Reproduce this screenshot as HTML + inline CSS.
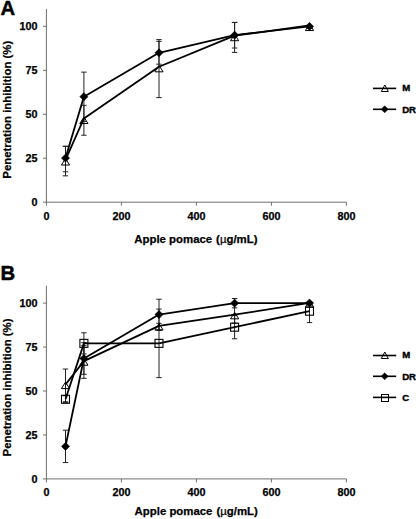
<!DOCTYPE html>
<html><head><meta charset="utf-8"><style>
html,body{margin:0;padding:0;background:#fff;}
body{width:416px;height:519px;overflow:hidden;}
svg{display:block;}
text{font-family:"Liberation Sans",sans-serif;font-weight:bold;fill:#000;stroke:#000;stroke-width:0.25px;}
.tk{font-size:10.8px;}
.ttl{font-size:11.4px;}
.lt{font-size:20.3px;stroke-width:0.45px;}
.lg{font-size:9.6px;stroke-width:0.4px;letter-spacing:-0.15px;}
</style></head><body>
<svg width="416" height="519" viewBox="0 0 416 519">
<rect width="416" height="519" fill="#fff"/>
<line x1="46.4" y1="8.9" x2="46.4" y2="205.7" stroke="#6e6e6e" stroke-width="1"/>
<line x1="43.1" y1="202.2" x2="346.4" y2="202.2" stroke="#6e6e6e" stroke-width="1"/>
<line x1="43.1" y1="158.25" x2="46.4" y2="158.25" stroke="#6e6e6e" stroke-width="1"/>
<line x1="43.1" y1="114.30" x2="46.4" y2="114.30" stroke="#6e6e6e" stroke-width="1"/>
<line x1="43.1" y1="70.35" x2="46.4" y2="70.35" stroke="#6e6e6e" stroke-width="1"/>
<line x1="43.1" y1="26.40" x2="46.4" y2="26.40" stroke="#6e6e6e" stroke-width="1"/>
<line x1="121.40" y1="202.2" x2="121.40" y2="205.7" stroke="#6e6e6e" stroke-width="1"/>
<line x1="196.40" y1="202.2" x2="196.40" y2="205.7" stroke="#6e6e6e" stroke-width="1"/>
<line x1="271.40" y1="202.2" x2="271.40" y2="205.7" stroke="#6e6e6e" stroke-width="1"/>
<line x1="346.40" y1="202.2" x2="346.40" y2="205.7" stroke="#6e6e6e" stroke-width="1"/>
<text x="37.6" y="205.90" text-anchor="end" class="tk">0</text>
<text x="37.6" y="161.95" text-anchor="end" class="tk">25</text>
<text x="37.6" y="118.00" text-anchor="end" class="tk">50</text>
<text x="37.6" y="74.05" text-anchor="end" class="tk">75</text>
<text x="37.6" y="30.10" text-anchor="end" class="tk">100</text>
<text x="46.40" y="219.60" text-anchor="middle" class="tk">0</text>
<text x="121.40" y="219.60" text-anchor="middle" class="tk">200</text>
<text x="196.40" y="219.60" text-anchor="middle" class="tk">400</text>
<text x="271.40" y="219.60" text-anchor="middle" class="tk">600</text>
<text x="346.40" y="219.60" text-anchor="middle" class="tk">800</text>
<text y="243.3" class="ttl"><tspan x="134.3">Apple pomace</tspan><tspan x="216.10">(</tspan><tspan style="font-weight:normal">µ</tspan>g/mL)</text>
<text transform="translate(10.7,109.7) rotate(-90)" x="0" y="0" text-anchor="middle" class="ttl">Penetration inhibition (%)</text>
<text x="0.6" y="15.2" class="lt">A</text>
<line x1="65.50" y1="146.30" x2="65.50" y2="175.83" stroke="#222" stroke-width="1.0"/>
<line x1="62.80" y1="146.30" x2="68.20" y2="146.30" stroke="#222" stroke-width="1.0"/>
<line x1="62.80" y1="175.83" x2="68.20" y2="175.83" stroke="#222" stroke-width="1.0"/>
<line x1="83.90" y1="105.33" x2="83.90" y2="135.22" stroke="#222" stroke-width="1.0"/>
<line x1="81.20" y1="105.33" x2="86.60" y2="105.33" stroke="#222" stroke-width="1.0"/>
<line x1="81.20" y1="135.22" x2="86.60" y2="135.22" stroke="#222" stroke-width="1.0"/>
<line x1="159.00" y1="39.58" x2="159.00" y2="97.60" stroke="#222" stroke-width="1.0"/>
<line x1="156.30" y1="39.58" x2="161.70" y2="39.58" stroke="#222" stroke-width="1.0"/>
<line x1="156.30" y1="97.60" x2="161.70" y2="97.60" stroke="#222" stroke-width="1.0"/>
<line x1="234.60" y1="22.53" x2="234.60" y2="52.42" stroke="#222" stroke-width="1.0"/>
<line x1="231.90" y1="22.53" x2="237.30" y2="22.53" stroke="#222" stroke-width="1.0"/>
<line x1="231.90" y1="52.42" x2="237.30" y2="52.42" stroke="#222" stroke-width="1.0"/>
<line x1="309.50" y1="26.22" x2="309.50" y2="28.33" stroke="#222" stroke-width="1.0"/>
<line x1="306.80" y1="26.22" x2="312.20" y2="26.22" stroke="#222" stroke-width="1.0"/>
<line x1="306.80" y1="28.33" x2="312.20" y2="28.33" stroke="#222" stroke-width="1.0"/>
<line x1="65.50" y1="146.30" x2="65.50" y2="171.79" stroke="#222" stroke-width="1.0"/>
<line x1="62.80" y1="146.30" x2="68.20" y2="146.30" stroke="#222" stroke-width="1.0"/>
<line x1="62.80" y1="171.79" x2="68.20" y2="171.79" stroke="#222" stroke-width="1.0"/>
<line x1="83.90" y1="72.11" x2="83.90" y2="121.33" stroke="#222" stroke-width="1.0"/>
<line x1="81.20" y1="72.11" x2="86.60" y2="72.11" stroke="#222" stroke-width="1.0"/>
<line x1="81.20" y1="121.33" x2="86.60" y2="121.33" stroke="#222" stroke-width="1.0"/>
<line x1="159.00" y1="41.34" x2="159.00" y2="64.20" stroke="#222" stroke-width="1.0"/>
<line x1="156.30" y1="41.34" x2="161.70" y2="41.34" stroke="#222" stroke-width="1.0"/>
<line x1="156.30" y1="64.20" x2="161.70" y2="64.20" stroke="#222" stroke-width="1.0"/>
<line x1="234.60" y1="22.36" x2="234.60" y2="48.02" stroke="#222" stroke-width="1.0"/>
<line x1="231.90" y1="22.36" x2="237.30" y2="22.36" stroke="#222" stroke-width="1.0"/>
<line x1="231.90" y1="48.02" x2="237.30" y2="48.02" stroke="#222" stroke-width="1.0"/>
<line x1="309.50" y1="25.52" x2="309.50" y2="27.28" stroke="#222" stroke-width="1.0"/>
<line x1="306.80" y1="25.52" x2="312.20" y2="25.52" stroke="#222" stroke-width="1.0"/>
<line x1="306.80" y1="27.28" x2="312.20" y2="27.28" stroke="#222" stroke-width="1.0"/>
<path d="M65.50,159.97 L83.90,118.48 L159.00,66.79 L234.60,35.68 L309.50,25.48" fill="none" stroke="#000" stroke-width="1.8" stroke-linejoin="round"/>
<path d="M65.50,158.52 L69.60,165.02 L61.40,165.02 Z" fill="none" stroke="#000" stroke-width="1.0"/>
<path d="M83.90,117.03 L88.00,123.53 L79.80,123.53 Z" fill="none" stroke="#000" stroke-width="1.0"/>
<path d="M159.00,65.34 L163.10,71.84 L154.90,71.84 Z" fill="none" stroke="#000" stroke-width="1.0"/>
<path d="M234.60,34.23 L238.70,40.73 L230.50,40.73 Z" fill="none" stroke="#000" stroke-width="1.0"/>
<path d="M309.50,24.03 L313.60,30.53 L305.40,30.53 Z" fill="none" stroke="#000" stroke-width="1.0"/>
<path d="M65.50,158.07 L83.90,96.72 L159.00,52.77 L234.60,35.19 L309.50,26.40" fill="none" stroke="#000" stroke-width="1.8" stroke-linejoin="round"/>
<path d="M65.50,153.97 L69.60,158.07 L65.50,162.17 L61.40,158.07 Z" fill="#000" stroke="#000" stroke-width="0.5"/>
<path d="M83.90,92.62 L88.00,96.72 L83.90,100.82 L79.80,96.72 Z" fill="#000" stroke="#000" stroke-width="0.5"/>
<path d="M159.00,48.67 L163.10,52.77 L159.00,56.87 L154.90,52.77 Z" fill="#000" stroke="#000" stroke-width="0.5"/>
<path d="M234.60,31.09 L238.70,35.19 L234.60,39.29 L230.50,35.19 Z" fill="#000" stroke="#000" stroke-width="0.5"/>
<path d="M309.50,22.30 L313.60,26.40 L309.50,30.50 L305.40,26.40 Z" fill="#000" stroke="#000" stroke-width="0.5"/>
<line x1="373" y1="88.4" x2="396.2" y2="88.4" stroke="#000" stroke-width="1.6"/>
<path d="M384.80,85.00 L388.30,91.50 L381.30,91.50 Z" fill="none" stroke="#000" stroke-width="1.0"/>
<text x="402.2" y="91.2" class="lg">M</text>
<line x1="373" y1="109.3" x2="396.2" y2="109.3" stroke="#000" stroke-width="1.6"/>
<path d="M384.70,105.77 L388.23,109.30 L384.70,112.83 L381.17,109.30 Z" fill="#000" stroke="#000" stroke-width="0.5"/>
<text x="402.2" y="112.7" class="lg">DR</text>
<line x1="46.4" y1="285.8" x2="46.4" y2="482.4" stroke="#6e6e6e" stroke-width="1"/>
<line x1="43.1" y1="478.9" x2="346.4" y2="478.9" stroke="#6e6e6e" stroke-width="1"/>
<line x1="43.1" y1="434.95" x2="46.4" y2="434.95" stroke="#6e6e6e" stroke-width="1"/>
<line x1="43.1" y1="391.00" x2="46.4" y2="391.00" stroke="#6e6e6e" stroke-width="1"/>
<line x1="43.1" y1="347.05" x2="46.4" y2="347.05" stroke="#6e6e6e" stroke-width="1"/>
<line x1="43.1" y1="303.10" x2="46.4" y2="303.10" stroke="#6e6e6e" stroke-width="1"/>
<line x1="121.40" y1="478.9" x2="121.40" y2="482.4" stroke="#6e6e6e" stroke-width="1"/>
<line x1="196.40" y1="478.9" x2="196.40" y2="482.4" stroke="#6e6e6e" stroke-width="1"/>
<line x1="271.40" y1="478.9" x2="271.40" y2="482.4" stroke="#6e6e6e" stroke-width="1"/>
<line x1="346.40" y1="478.9" x2="346.40" y2="482.4" stroke="#6e6e6e" stroke-width="1"/>
<text x="37.6" y="482.60" text-anchor="end" class="tk">0</text>
<text x="37.6" y="438.65" text-anchor="end" class="tk">25</text>
<text x="37.6" y="394.70" text-anchor="end" class="tk">50</text>
<text x="37.6" y="350.75" text-anchor="end" class="tk">75</text>
<text x="37.6" y="306.80" text-anchor="end" class="tk">100</text>
<text x="46.40" y="496.30" text-anchor="middle" class="tk">0</text>
<text x="121.40" y="496.30" text-anchor="middle" class="tk">200</text>
<text x="196.40" y="496.30" text-anchor="middle" class="tk">400</text>
<text x="271.40" y="496.30" text-anchor="middle" class="tk">600</text>
<text x="346.40" y="496.30" text-anchor="middle" class="tk">800</text>
<text y="515.0" class="ttl"><tspan x="134.6">Apple pomace</tspan><tspan x="216.40">(</tspan><tspan style="font-weight:normal">µ</tspan>g/mL)</text>
<text transform="translate(10.7,387.5) rotate(-90)" x="0" y="0" text-anchor="middle" class="ttl">Penetration inhibition (%)</text>
<text x="0.6" y="279.6" class="lt">B</text>
<line x1="65.50" y1="395.75" x2="65.50" y2="402.78" stroke="#222" stroke-width="1.0"/>
<line x1="62.80" y1="395.75" x2="68.20" y2="395.75" stroke="#222" stroke-width="1.0"/>
<line x1="62.80" y1="402.78" x2="68.20" y2="402.78" stroke="#222" stroke-width="1.0"/>
<line x1="83.90" y1="332.81" x2="83.90" y2="353.91" stroke="#222" stroke-width="1.0"/>
<line x1="81.20" y1="332.81" x2="86.60" y2="332.81" stroke="#222" stroke-width="1.0"/>
<line x1="81.20" y1="353.91" x2="86.60" y2="353.91" stroke="#222" stroke-width="1.0"/>
<line x1="159.00" y1="309.08" x2="159.00" y2="377.64" stroke="#222" stroke-width="1.0"/>
<line x1="156.30" y1="309.08" x2="161.70" y2="309.08" stroke="#222" stroke-width="1.0"/>
<line x1="156.30" y1="377.64" x2="161.70" y2="377.64" stroke="#222" stroke-width="1.0"/>
<line x1="234.60" y1="315.58" x2="234.60" y2="338.79" stroke="#222" stroke-width="1.0"/>
<line x1="231.90" y1="315.58" x2="237.30" y2="315.58" stroke="#222" stroke-width="1.0"/>
<line x1="231.90" y1="338.79" x2="237.30" y2="338.79" stroke="#222" stroke-width="1.0"/>
<line x1="309.50" y1="301.87" x2="309.50" y2="322.61" stroke="#222" stroke-width="1.0"/>
<line x1="306.80" y1="301.87" x2="312.20" y2="301.87" stroke="#222" stroke-width="1.0"/>
<line x1="306.80" y1="322.61" x2="312.20" y2="322.61" stroke="#222" stroke-width="1.0"/>
<line x1="65.50" y1="369.02" x2="65.50" y2="401.72" stroke="#222" stroke-width="1.0"/>
<line x1="62.80" y1="369.02" x2="68.20" y2="369.02" stroke="#222" stroke-width="1.0"/>
<line x1="62.80" y1="401.72" x2="68.20" y2="401.72" stroke="#222" stroke-width="1.0"/>
<line x1="83.90" y1="345.64" x2="83.90" y2="378.34" stroke="#222" stroke-width="1.0"/>
<line x1="81.20" y1="345.64" x2="86.60" y2="345.64" stroke="#222" stroke-width="1.0"/>
<line x1="81.20" y1="378.34" x2="86.60" y2="378.34" stroke="#222" stroke-width="1.0"/>
<line x1="159.00" y1="323.32" x2="159.00" y2="330.35" stroke="#222" stroke-width="1.0"/>
<line x1="156.30" y1="323.32" x2="161.70" y2="323.32" stroke="#222" stroke-width="1.0"/>
<line x1="156.30" y1="330.35" x2="161.70" y2="330.35" stroke="#222" stroke-width="1.0"/>
<line x1="234.60" y1="303.28" x2="234.60" y2="323.14" stroke="#222" stroke-width="1.0"/>
<line x1="231.90" y1="303.28" x2="237.30" y2="303.28" stroke="#222" stroke-width="1.0"/>
<line x1="231.90" y1="323.14" x2="237.30" y2="323.14" stroke="#222" stroke-width="1.0"/>
<line x1="309.50" y1="302.75" x2="309.50" y2="304.86" stroke="#222" stroke-width="1.0"/>
<line x1="306.80" y1="302.75" x2="312.20" y2="302.75" stroke="#222" stroke-width="1.0"/>
<line x1="306.80" y1="304.86" x2="312.20" y2="304.86" stroke="#222" stroke-width="1.0"/>
<line x1="65.50" y1="430.20" x2="65.50" y2="462.55" stroke="#222" stroke-width="1.0"/>
<line x1="62.80" y1="430.20" x2="68.20" y2="430.20" stroke="#222" stroke-width="1.0"/>
<line x1="62.80" y1="462.55" x2="68.20" y2="462.55" stroke="#222" stroke-width="1.0"/>
<line x1="83.90" y1="342.65" x2="83.90" y2="374.30" stroke="#222" stroke-width="1.0"/>
<line x1="81.20" y1="342.65" x2="86.60" y2="342.65" stroke="#222" stroke-width="1.0"/>
<line x1="81.20" y1="374.30" x2="86.60" y2="374.30" stroke="#222" stroke-width="1.0"/>
<line x1="159.00" y1="299.23" x2="159.00" y2="329.82" stroke="#222" stroke-width="1.0"/>
<line x1="156.30" y1="299.23" x2="161.70" y2="299.23" stroke="#222" stroke-width="1.0"/>
<line x1="156.30" y1="329.82" x2="161.70" y2="329.82" stroke="#222" stroke-width="1.0"/>
<line x1="234.60" y1="298.53" x2="234.60" y2="307.85" stroke="#222" stroke-width="1.0"/>
<line x1="231.90" y1="298.53" x2="237.30" y2="298.53" stroke="#222" stroke-width="1.0"/>
<line x1="231.90" y1="307.85" x2="237.30" y2="307.85" stroke="#222" stroke-width="1.0"/>
<line x1="309.50" y1="302.22" x2="309.50" y2="303.98" stroke="#222" stroke-width="1.0"/>
<line x1="306.80" y1="302.22" x2="312.20" y2="302.22" stroke="#222" stroke-width="1.0"/>
<line x1="306.80" y1="303.98" x2="312.20" y2="303.98" stroke="#222" stroke-width="1.0"/>
<path d="M65.50,399.26 L83.90,343.36 L159.00,343.36 L234.60,327.18 L309.50,311.19" fill="none" stroke="#000" stroke-width="1.8" stroke-linejoin="round"/>
<rect x="61.50" y="395.26" width="8.00" height="8.00" fill="none" stroke="#000" stroke-width="1.1"/>
<rect x="79.90" y="339.36" width="8.00" height="8.00" fill="none" stroke="#000" stroke-width="1.1"/>
<rect x="155.00" y="339.36" width="8.00" height="8.00" fill="none" stroke="#000" stroke-width="1.1"/>
<rect x="230.60" y="323.18" width="8.00" height="8.00" fill="none" stroke="#000" stroke-width="1.1"/>
<rect x="305.50" y="307.19" width="8.00" height="8.00" fill="none" stroke="#000" stroke-width="1.1"/>
<path d="M65.50,384.47 L83.90,361.09 L159.00,325.93 L234.60,314.68 L309.50,302.90" fill="none" stroke="#000" stroke-width="1.8" stroke-linejoin="round"/>
<path d="M65.50,382.12 L69.60,388.62 L61.40,388.62 Z" fill="none" stroke="#000" stroke-width="1.0"/>
<path d="M83.90,358.74 L88.00,365.24 L79.80,365.24 Z" fill="none" stroke="#000" stroke-width="1.0"/>
<path d="M159.00,323.58 L163.10,330.08 L154.90,330.08 Z" fill="none" stroke="#000" stroke-width="1.0"/>
<path d="M234.60,312.33 L238.70,318.83 L230.50,318.83 Z" fill="none" stroke="#000" stroke-width="1.0"/>
<path d="M309.50,300.55 L313.60,307.05 L305.40,307.05 Z" fill="none" stroke="#000" stroke-width="1.0"/>
<path d="M65.50,446.38 L83.90,358.48 L159.00,314.53 L234.60,303.19 L309.50,303.10" fill="none" stroke="#000" stroke-width="1.8" stroke-linejoin="round"/>
<path d="M65.50,442.28 L69.60,446.38 L65.50,450.48 L61.40,446.38 Z" fill="#000" stroke="#000" stroke-width="0.5"/>
<path d="M83.90,354.38 L88.00,358.48 L83.90,362.58 L79.80,358.48 Z" fill="#000" stroke="#000" stroke-width="0.5"/>
<path d="M159.00,310.43 L163.10,314.53 L159.00,318.63 L154.90,314.53 Z" fill="#000" stroke="#000" stroke-width="0.5"/>
<path d="M234.60,299.09 L238.70,303.19 L234.60,307.29 L230.50,303.19 Z" fill="#000" stroke="#000" stroke-width="0.5"/>
<path d="M309.50,299.00 L313.60,303.10 L309.50,307.20 L305.40,303.10 Z" fill="#000" stroke="#000" stroke-width="0.5"/>
<line x1="373" y1="355.5" x2="396.2" y2="355.5" stroke="#000" stroke-width="1.6"/>
<path d="M384.80,352.00 L388.30,358.50 L381.30,358.50 Z" fill="none" stroke="#000" stroke-width="1.0"/>
<text x="402.2" y="358.1" class="lg">M</text>
<line x1="373" y1="376.3" x2="396.2" y2="376.3" stroke="#000" stroke-width="1.6"/>
<path d="M384.70,372.77 L388.23,376.30 L384.70,379.83 L381.17,376.30 Z" fill="#000" stroke="#000" stroke-width="0.5"/>
<text x="402.2" y="379.8" class="lg">DR</text>
<line x1="373" y1="397.4" x2="396.2" y2="397.4" stroke="#000" stroke-width="1.6"/>
<rect x="381.5" y="394.5" width="7" height="7" fill="none" stroke="#000" stroke-width="1"/>
<text x="402.2" y="400.8" class="lg">C</text>
</svg>
</body></html>
